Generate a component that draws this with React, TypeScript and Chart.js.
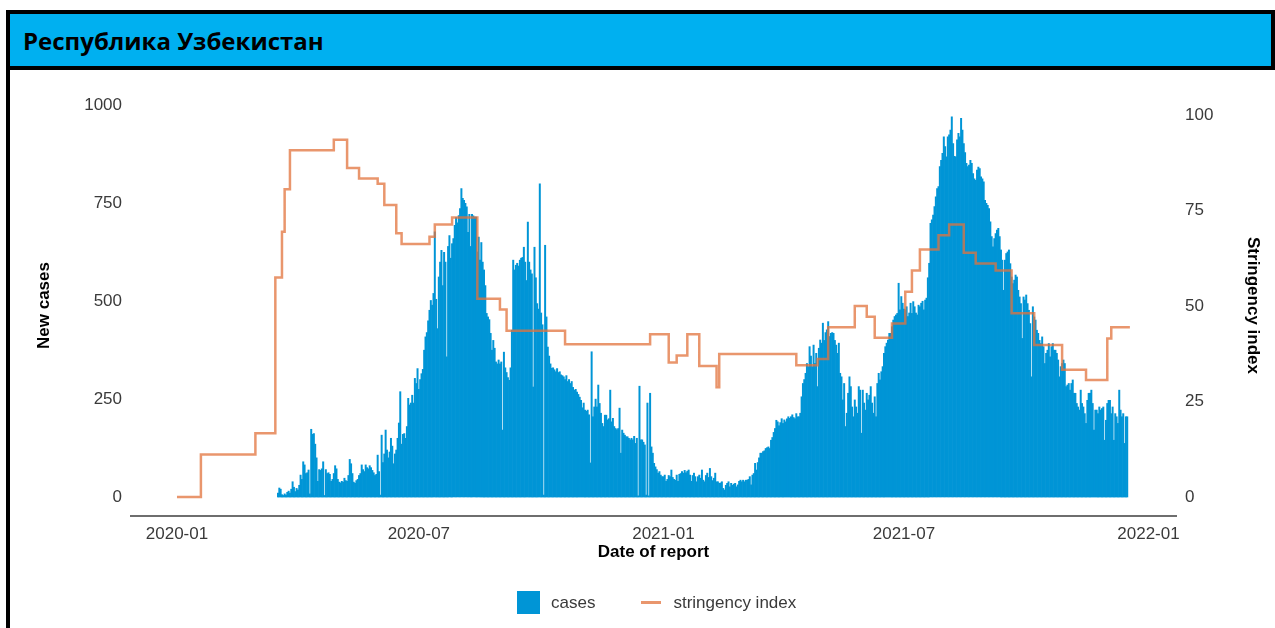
import { useEffect, useRef } from 'react';
import { Chart, registerables } from 'chart.js';

Chart.register(...registerables);

const pageTitle = 'Республика Узбекистан';
const xAxisTitle = 'Date of report';
const yAxisTitle = 'New cases';
const y1AxisTitle = 'Stringency index';
const seriesNames = ['cases', 'stringency index'];
const xTickLabels = ['2020-01', '2020-07', '2021-01', '2021-07', '2022-01'];
const yTicks = [0, 250, 500, 750, 1000];
const y1Ticks = [0, 25, 50, 75, 100];

const casesStartDate = '2020-03-17';
const cases = [
  10, 23, 20, 6, 4, 8, 5, 12, 15, 10,
  20, 39, 25, 14, 22, 18, 30, 56, 45, 90,
  82, 60, 62, 69, 8, 173, 160, 162, 135, 100,
  40, 70, 68, 72, 90, 4, 70, 60, 62, 58,
  40, 45, 60, 80, 72, 45, 38, 36, 40, 38,
  48, 42, 40, 55, 96, 85, 60, 38, 35, 42,
  45, 55, 60, 82, 70, 65, 82, 75, 72, 80,
  75, 68, 62, 55, 58, 107, 65, 5, 158, 88,
  110, 171, 120, 100, 115, 150, 130, 85, 110, 120,
  150, 189, 269, 135, 160, 162, 150, 180, 252, 235,
  240, 260, 240, 303, 290, 328, 275, 300, 315, 326,
  375, 409, 420, 450, 477, 502, 490, 520, 677, 505,
  430, 562, 600, 630, 540, 625, 600, 358, 640, 668,
  610, 647, 660, 694, 714, 700, 719, 737, 788, 763,
  758, 750, 741, 676, 722, 640, 722, 718, 715, 715,
  626, 664, 605, 650, 600, 580, 540, 469, 460, 453,
  418, 375, 400, 380, 345, 340, 350, 340, 345, 171,
  370, 330, 318, 305, 298, 330, 426, 605, 580, 592,
  597, 590, 605, 610, 612, 638, 600, 553, 702, 600,
  580, 570, 281, 638, 560, 494, 480, 800, 470, 440,
  5, 643, 460, 383, 360, 340, 329, 330, 325, 320,
  328, 318, 320, 312, 310, 307, 300, 310, 295, 300,
  290, 295, 280, 273, 275, 268, 262, 255, 247, 228,
  240, 222, 219, 222, 210, 87, 371, 205, 230, 250,
  230, 286, 239, 214, 188, 180, 209, 209, 197, 200,
  273, 192, 201, 180, 175, 172, 175, 227, 112, 171,
  163, 158, 154, 154, 150, 146, 150, 146, 155, 137,
  150, 3, 283, 146, 146, 140, 133, 5, 240, 3,
  265, 128, 112, 86, 77, 70, 61, 65, 56, 52,
  52, 56, 40, 45, 55, 52, 69, 50, 45, 43,
  56, 40, 58, 60, 65, 61, 68, 62, 66, 69,
  56, 40, 55, 61, 52, 39, 52, 56, 48, 69,
  43, 39, 55, 61, 50, 73, 52, 42, 48, 61,
  39, 39, 35, 36, 39, 22, 18, 30, 35, 39,
  26, 35, 30, 33, 35, 26, 31, 40, 43, 39,
  43, 39, 43, 43, 45, 52, 31, 56, 60, 86,
  69, 88, 100, 112, 112, 116, 118, 124, 126, 128,
  124, 145, 152, 165, 175, 196, 192, 182, 190, 200,
  188, 197, 192, 200, 205, 201, 205, 210, 203, 200,
  213, 205, 205, 214, 256, 290, 300, 316, 341, 333,
  384, 360, 333, 388, 341, 367, 282, 380, 401, 393,
  444, 400, 420, 427, 448, 410, 418, 420, 418, 400,
  388, 367, 393, 316, 307, 248, 290, 180, 214, 265,
  307, 282, 230, 205, 248, 230, 214, 282, 273, 163,
  273, 240, 222, 265, 248, 260, 282, 240, 214, 256,
  205, 290, 316, 299, 320, 333, 367, 384, 393, 401,
  418, 418, 435, 452, 461, 465, 469, 546, 478, 512,
  495, 480, 478, 486, 461, 470, 495, 469, 499, 486,
  470, 465, 490, 486, 495, 500, 478, 503, 508, 560,
  597, 699, 708, 720, 742, 767, 788, 793, 844, 860,
  878, 920, 895, 869, 920, 925, 937, 971, 903, 870,
  869, 912, 929, 920, 967, 937, 903, 880, 852, 844,
  848, 860, 852, 826, 813, 809, 835, 843, 839, 818,
  813, 805, 758, 750, 745, 737, 703, 665, 639, 660,
  673, 682, 686, 665, 631, 605, 528, 605, 622, 626,
  631, 596, 562, 545, 554, 567, 562, 528, 511, 494,
  405, 511, 503, 516, 494, 477, 443, 307, 486, 460,
  452, 426, 418, 400, 392, 409, 384, 341, 367, 375,
  392, 358, 384, 392, 375, 375, 367, 350, 307, 333,
  341, 350, 341, 282, 286, 290, 273, 290, 299, 265,
  265, 239, 230, 222, 273, 239, 230, 213, 188, 247,
  265, 265, 273, 239, 171, 222, 222, 213, 230, 222,
  226, 230, 145, 196, 239, 247, 247, 213, 230, 145,
  213, 205, 188, 273, 222, 205, 213, 137, 205, 205,
];

const stringencyDates = [
  '2020-01-01', '2020-01-19', '2020-02-29', '2020-03-15', '2020-03-20', '2020-03-22', '2020-03-26',
  '2020-04-28', '2020-05-08', '2020-05-17', '2020-05-31', '2020-06-05', '2020-06-14', '2020-06-18',
  '2020-07-09', '2020-07-13', '2020-07-26', '2020-08-14', '2020-08-31', '2020-09-05', '2020-10-19',
  '2020-12-22', '2021-01-05', '2021-01-11', '2021-01-19', '2021-01-28', '2021-02-10', '2021-02-12',
  '2021-04-11', '2021-04-27', '2021-05-05', '2021-05-25', '2021-06-03', '2021-06-09', '2021-06-22',
  '2021-07-02', '2021-07-07', '2021-07-13', '2021-07-27', '2021-08-04', '2021-08-15', '2021-08-24',
  '2021-09-08', '2021-09-20', '2021-10-07', '2021-10-28', '2021-11-15', '2021-12-01', '2021-12-04', '2021-12-18',
];
const stringencyValues = [
  0, 11.11, 16.67, 57.41, 69.44, 80.56, 90.74,
  93.52, 86.11, 83.33, 82.0, 76.39, 69.0, 66.2,
  68.1, 71.3, 73.15, 51.85, 49.07, 43.52, 40.0,
  42.59, 35.19, 37.04, 42.59, 34.26, 28.7, 37.4,
  34.5, 36.1, 44.4, 50.0, 47.2, 41.7, 45.4,
  53.7, 59.3, 64.8, 68.5, 71.3, 63.9, 61.1,
  59.3, 48.1, 39.8, 33.3, 30.6, 41.5, 44.4, 44.4,
];

const BAR_COLOR = '#0095D6';
const LINE_COLOR = 'rgba(225,115,60,0.75)';
const FONT = 'Liberation Sans, Arial, sans-serif';

const DAY = 86400000;
const ORIGIN = Date.UTC(2020, 0, 1);
const dayIndex = (s: string) => Math.round((Date.parse(s + 'T00:00:00Z') - ORIGIN) / DAY);

export default function App() {
  const ref = useRef<HTMLCanvasElement>(null);

  useEffect(() => {
    const start = dayIndex(casesStartDate);
    const barData = cases.map((v, i) => ({ x: start + i, y: v }));
    const lineData = stringencyDates.map((d, i) => ({ x: dayIndex(d), y: stringencyValues[i] }));
    const xTickPos = xTickLabels.map((l) => dayIndex(l + '-01'));

    const tickFont = { family: FONT, size: 17 };
    const titleFont = { family: FONT, size: 17, weight: 'bold' as const };

    const chart = new Chart(ref.current as HTMLCanvasElement, {
      type: 'bar',
      data: {
        datasets: [
          {
            type: 'line',
            label: seriesNames[1],
            data: lineData,
            yAxisID: 'y1',
            borderColor: LINE_COLOR,
            borderWidth: 2.5,
            pointRadius: 0,
            stepped: true,
            fill: false,
            order: 1,
          } as any,
          {
            type: 'bar',
            label: seriesNames[0],
            data: barData,
            yAxisID: 'y',
            backgroundColor: BAR_COLOR,
            borderWidth: 0,
            barPercentage: 1,
            categoryPercentage: 1,
            order: 2,
          } as any,
        ],
      },
      options: {
        animation: false,
        responsive: false,
        maintainAspectRatio: false,
        layout: { padding: { top: 25, bottom: 42, left: 0, right: 0 } },
        plugins: { legend: { display: false }, tooltip: { enabled: false } },
        scales: {
          x: {
            type: 'linear',
            min: -34.6,
            max: 751.7,
            offset: false,
            grid: { display: false, drawTicks: false },
            border: { display: true, color: '#6e6e6e', width: 2 },
            ticks: {
              font: tickFont,
              color: '#3a3a3a',
              padding: 8,
              maxRotation: 0,
              autoSkip: false,
              callback: (v: any) => {
                const i = xTickPos.indexOf(Number(v));
                return i >= 0 ? xTickLabels[i] : '';
              },
            },
            title: { display: true, text: xAxisTitle, font: titleFont, color: '#000', padding: { top: 0, bottom: 23 } },
            afterBuildTicks: (s: any) => {
              s.ticks = xTickPos.map((v) => ({ value: v }));
            },
            afterFit: (s: any) => {
              s.height = 70;
            },
          },
          y: {
            type: 'linear',
            position: 'left',
            min: -48.5,
            max: 1026.8,
            grid: { display: false, drawTicks: false },
            border: { display: false },
            ticks: { font: tickFont, color: '#3a3a3a', padding: 9, callback: (v: any) => String(v) },
            title: { display: true, text: yAxisTitle, font: titleFont, color: '#000', padding: { top: 24, bottom: 0 } },
            afterBuildTicks: (s: any) => {
              s.ticks = yTicks.map((v) => ({ value: v }));
            },
            afterFit: (s: any) => {
              s.width = 121;
            },
          },
          y1: {
            type: 'linear',
            position: 'right',
            min: -4.97,
            max: 105.2,
            grid: { display: false, drawTicks: false },
            border: { display: false },
            ticks: { font: tickFont, color: '#3a3a3a', padding: 9, callback: (v: any) => String(v) },
            title: { display: true, text: y1AxisTitle, font: titleFont, color: '#000', padding: { top: 8, bottom: 0 } },
            afterBuildTicks: (s: any) => {
              s.ticks = y1Ticks.map((v) => ({ value: v }));
            },
            afterFit: (s: any) => {
              s.width = 95;
            },
          },
        },
      } as any,
    });
    return () => chart.destroy();
  }, []);

  return (
    <div style={{ position: 'absolute', left: 0, top: 0, width: 1275, height: 628, overflow: 'hidden', background: '#fff' }}>
      <div
        style={{
          position: 'absolute',
          left: 6,
          top: 10,
          width: 1265,
          height: 640,
          borderLeft: '4px solid #000',
          borderTop: '4px solid #000',
        }}
      >
        <div
          style={{
            height: 52,
            width: 1248,
            background: '#00B0F0',
            borderBottom: '4px solid #000',
            borderRight: '4px solid #000',
            display: 'flex',
            alignItems: 'center',
            paddingLeft: 13,
            boxSizing: 'content-box',
          }}
        >
          <span style={{ fontFamily: 'Open Sans, sans-serif', fontWeight: 700, fontSize: 24, color: '#000', marginTop: 1 }}>
            {pageTitle}
          </span>
        </div>
        <canvas ref={ref} width={1261} height={558} style={{ display: 'block', width: 1261, height: 558 }} />
      </div>
      <div
        style={{
          position: 'absolute',
          left: 517,
          top: 591,
          height: 23,
          display: 'flex',
          alignItems: 'center',
          fontFamily: FONT,
          fontSize: 17,
          color: '#3a3a3a',
        }}
      >
        <span style={{ display: 'inline-block', width: 23, height: 23, background: BAR_COLOR }} />
        <span style={{ marginLeft: 11 }}>{seriesNames[0]}</span>
        <span style={{ display: 'inline-block', width: 20, height: 3, background: LINE_COLOR, marginLeft: 46 }} />
        <span style={{ marginLeft: 12 }}>{seriesNames[1]}</span>
      </div>
    </div>
  );
}
